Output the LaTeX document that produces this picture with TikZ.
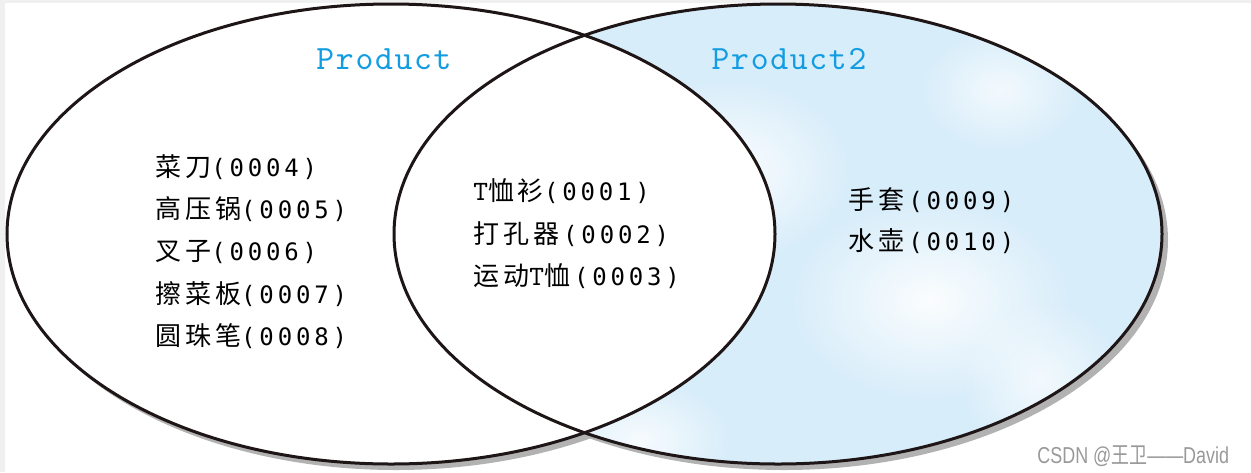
\documentclass[tikz,border=0pt]{standalone}
\usepackage{fontspec}
\newfontfamily\cjk{Noto Sans CJK SC}[LetterSpace=15]
\newfontfamily\numfont{DejaVu Sans Mono}[LetterSpace=16]
\newfontfamily\setfont{lmmono10-regular.otf}[LetterSpace=5]
\newfontfamily\markfont{Liberation Sans}[FakeStretch=0.78]
\newfontfamily\markcjk{Noto Sans CJK SC}[FakeStretch=0.78]
\usetikzlibrary{fadings}
\definecolor{setblue}{RGB}{18,156,226}
\definecolor{venlight}{RGB}{216,237,250}
\definecolor{outline}{RGB}{30,22,22}
\definecolor{pagegray}{RGB}{240,240,240}
\newcommand{\idno}[1]{{\numfont\fontsize{12pt}{14pt}\selectfont #1}}
\newcommand{\tee}{{\setfont\fontsize{14pt}{14pt}\selectfont T}}
\tikzfading[name=spot, inner color=transparent!0, outer color=transparent!100]

\begin{document}
\begin{tikzpicture}[x=0.5pt, y=-0.5pt,
	entry/.style={anchor=base west, inner sep=0pt, font=\cjk\fontsize{13pt}{15pt}\selectfont},
	setname/.style={anchor=base, inner sep=0pt, text=setblue, font=\setfont\fontsize{17pt}{18pt}\selectfont},
	rim/.style={draw=outline, line width=1.5pt},
	venn/.style={x radius=192pt, y radius=115pt}]
	
	\useasboundingbox (0,0) rectangle (1251,472);
	\fill [pagegray] (0,0) rectangle (1251,472);
	\fill [white] (5,3) rectangle (1251,472);
	
	% shadows
	\fill [black!30] (396,240) ellipse [venn];
	\fill [black!30] (784,240) ellipse [venn];
	
	% Product2 only: light blue
	\begin{scope}
		\clip (778,234) ellipse [venn];
		\fill [venlight] (390,0) rectangle (1170,472);
		\fill [white, path fading=spot, opacity=0.9] (730,170) ellipse [x radius=60pt, y radius=45pt];
		\fill [white, path fading=spot, opacity=0.9] (930,300) ellipse [x radius=70pt, y radius=50pt];
		\fill [white, path fading=spot, opacity=0.8] (640,440) ellipse [x radius=45pt, y radius=30pt];
		\fill [white, path fading=spot, opacity=0.7] (1040,380) ellipse [x radius=40pt, y radius=40pt];
		\fill [white, path fading=spot, opacity=0.7] (1000,90) ellipse [x radius=40pt, y radius=30pt];
	\end{scope}
	\fill [white] (391,234) ellipse [venn];
	
	\draw [rim] (391,234) ellipse [venn];
	\draw [rim] (778,234) ellipse [venn];
	
	\node [setname] (p1) at (384,69) {Product};
	\node [setname] (p2) at (789,69) {Product2};
	
	% Product only
	\node [entry] (a4) at (155,176) {菜刀\idno{(0004)}};
	\node [entry] (a5) at (155,218) {高压锅\idno{(0005)}};
	\node [entry] (a6) at (155,260) {叉子\idno{(0006)}};
	\node [entry] (a7) at (155,303) {擦菜板\idno{(0007)}};
	\node [entry] (a8) at (155,345) {圆珠笔\idno{(0008)}};
	
	% both
	\node [entry] (b1) at (473,200) {\tee 恤衫\idno{(0001)}};
	\node [entry] (b2) at (473,243) {打孔器\hspace{2pt}\idno{(0002)}};
	\node [entry] (b3) at (473,285) {运动\tee 恤\hspace{2pt}\idno{(0003)}};
	
	% Product2 only
	\node [entry] (c9) at (848,209) {手套\hspace{2pt}\idno{(0009)}};
	\node [entry] (c10) at (848,250) {水壶\hspace{2pt}\idno{(0010)}};
	
	\node [anchor=base west, inner sep=0pt, text=black!40, font=\markfont\fontsize{11.5pt}{12pt}\selectfont] (mark) at (1037,463) {CSDN @{\markcjk 王卫}——David};
\end{tikzpicture}
\end{document}
